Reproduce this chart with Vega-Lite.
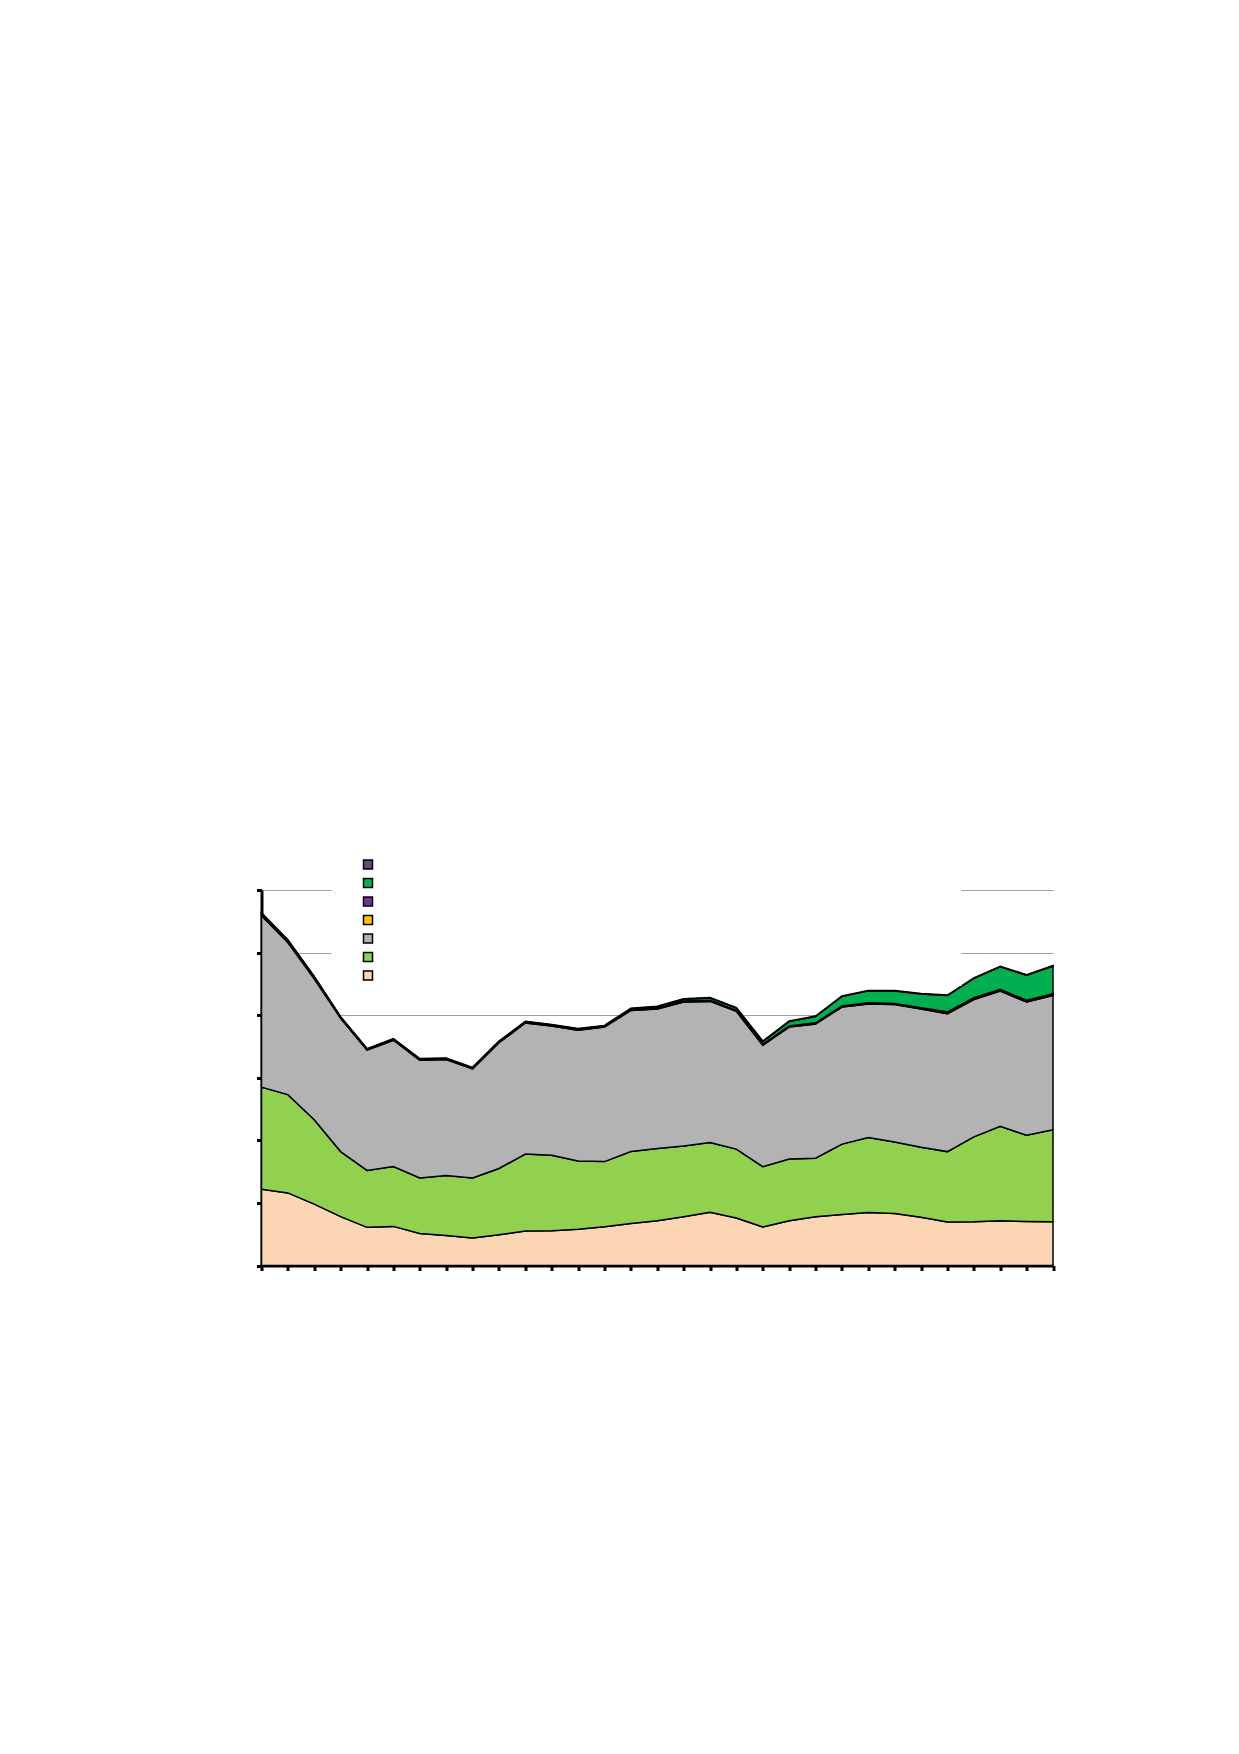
{
  "$schema": "https://vega.github.io/schema/vega-lite/v6.json",
  "autosize": {"type": "none"},
  "padding": {"left": 261.5, "top": 890, "right": 186, "bottom": 488.5},
  "width": 791.5,
  "height": 375.5,
  "background": "white",
  "data": {
    "values": [
      {"t": 0, "Series 1": 12.2, "Series 2": 16.3, "Series 3": 27.4, "Series 4": 0.3, "Series 5": 0.08, "Series 6": 0, "Series 7": 0.08},
      {"t": 1, "Series 1": 11.6, "Series 2": 15.7, "Series 3": 24.3, "Series 4": 0.3, "Series 5": 0.08, "Series 6": 0, "Series 7": 0.08},
      {"t": 2, "Series 1": 9.8, "Series 2": 13.5, "Series 3": 22.5, "Series 4": 0.25, "Series 5": 0.08, "Series 6": 0, "Series 7": 0.08},
      {"t": 3, "Series 1": 7.8, "Series 2": 10.4, "Series 3": 21.3, "Series 4": 0.1, "Series 5": 0.08, "Series 6": 0, "Series 7": 0.08},
      {"t": 4, "Series 1": 6.1, "Series 2": 9.1, "Series 3": 19.2, "Series 4": 0.1, "Series 5": 0.08, "Series 6": 0, "Series 7": 0.08},
      {"t": 5, "Series 1": 6.25, "Series 2": 9.55, "Series 3": 20.2, "Series 4": 0.1, "Series 5": 0.08, "Series 6": 0, "Series 7": 0.08},
      {"t": 6, "Series 1": 5.1, "Series 2": 8.9, "Series 3": 18.8, "Series 4": 0.1, "Series 5": 0.08, "Series 6": 0, "Series 7": 0.08},
      {"t": 7, "Series 1": 4.8, "Series 2": 9.6, "Series 3": 18.5, "Series 4": 0.1, "Series 5": 0.08, "Series 6": 0, "Series 7": 0.08},
      {"t": 8, "Series 1": 4.4, "Series 2": 9.6, "Series 3": 17.4, "Series 4": 0.1, "Series 5": 0.08, "Series 6": 0, "Series 7": 0.08},
      {"t": 9, "Series 1": 4.9, "Series 2": 10.6, "Series 3": 20.1, "Series 4": 0.1, "Series 5": 0.08, "Series 6": 0, "Series 7": 0.08},
      {"t": 10, "Series 1": 5.5, "Series 2": 12.3, "Series 3": 20.95, "Series 4": 0.1, "Series 5": 0.08, "Series 6": 0, "Series 7": 0.08},
      {"t": 11, "Series 1": 5.55, "Series 2": 12.05, "Series 3": 20.65, "Series 4": 0.1, "Series 5": 0.08, "Series 6": 0, "Series 7": 0.08},
      {"t": 12, "Series 1": 5.8, "Series 2": 10.9, "Series 3": 20.9, "Series 4": 0.1, "Series 5": 0.08, "Series 6": 0, "Series 7": 0.08},
      {"t": 13, "Series 1": 6.2, "Series 2": 10.4, "Series 3": 21.5, "Series 4": 0.1, "Series 5": 0.08, "Series 6": 0, "Series 7": 0.08},
      {"t": 14, "Series 1": 6.7, "Series 2": 11.5, "Series 3": 22.55, "Series 4": 0.1, "Series 5": 0.08, "Series 6": 0.1, "Series 7": 0.08},
      {"t": 15, "Series 1": 7.15, "Series 2": 11.55, "Series 3": 22.3, "Series 4": 0.1, "Series 5": 0.08, "Series 6": 0.15, "Series 7": 0.08},
      {"t": 16, "Series 1": 7.8, "Series 2": 11.3, "Series 3": 23.0, "Series 4": 0.1, "Series 5": 0.08, "Series 6": 0.25, "Series 7": 0.08},
      {"t": 17, "Series 1": 8.5, "Series 2": 11.15, "Series 3": 22.55, "Series 4": 0.1, "Series 5": 0.08, "Series 6": 0.35, "Series 7": 0.08},
      {"t": 18, "Series 1": 7.6, "Series 2": 11.0, "Series 3": 22.0, "Series 4": 0.1, "Series 5": 0.08, "Series 6": 0.35, "Series 7": 0.08},
      {"t": 19, "Series 1": 6.15, "Series 2": 9.65, "Series 3": 19.4, "Series 4": 0.1, "Series 5": 0.08, "Series 6": 0.4, "Series 7": 0.08},
      {"t": 20, "Series 1": 7.15, "Series 2": 9.85, "Series 3": 21.1, "Series 4": 0.1, "Series 5": 0.08, "Series 6": 0.7, "Series 7": 0.08},
      {"t": 21, "Series 1": 7.8, "Series 2": 9.35, "Series 3": 21.45, "Series 4": 0.1, "Series 5": 0.08, "Series 6": 1.0, "Series 7": 0.08},
      {"t": 22, "Series 1": 8.15, "Series 2": 11.25, "Series 3": 21.9, "Series 4": 0.1, "Series 5": 0.08, "Series 6": 1.5, "Series 7": 0.08},
      {"t": 23, "Series 1": 8.45, "Series 2": 12.0, "Series 3": 21.35, "Series 4": 0.1, "Series 5": 0.08, "Series 6": 1.9, "Series 7": 0.08},
      {"t": 24, "Series 1": 8.3, "Series 2": 11.45, "Series 3": 21.95, "Series 4": 0.1, "Series 5": 0.08, "Series 6": 2.0, "Series 7": 0.08},
      {"t": 25, "Series 1": 7.7, "Series 2": 11.2, "Series 3": 22.1, "Series 4": 0.1, "Series 5": 0.08, "Series 6": 2.2, "Series 7": 0.08},
      {"t": 26, "Series 1": 6.95, "Series 2": 11.25, "Series 3": 22.05, "Series 4": 0.2, "Series 5": 0.08, "Series 6": 2.6, "Series 7": 0.08},
      {"t": 27, "Series 1": 7.0, "Series 2": 13.55, "Series 3": 21.95, "Series 4": 0.2, "Series 5": 0.08, "Series 6": 3.1, "Series 7": 0.08},
      {"t": 28, "Series 1": 7.15, "Series 2": 15.1, "Series 3": 21.6, "Series 4": 0.2, "Series 5": 0.08, "Series 6": 3.6, "Series 7": 0.08},
      {"t": 29, "Series 1": 7.05, "Series 2": 13.75, "Series 3": 21.3, "Series 4": 0.2, "Series 5": 0.08, "Series 6": 4.0, "Series 7": 0.08},
      {"t": 30, "Series 1": 7.0, "Series 2": 14.7, "Series 3": 21.45, "Series 4": 0.2, "Series 5": 0.08, "Series 6": 4.4, "Series 7": 0.08}
    ]
  },
  "transform": [
    {"fold": ["Series 1", "Series 2", "Series 3", "Series 4", "Series 5", "Series 6", "Series 7"], "as": ["series", "value"]}
  ],
  "mark": {"type": "area", "stroke": "black", "strokeWidth": 1.5, "strokeJoin": "miter", "opacity": 1},
  "encoding": {
    "x": {
      "field": "t", "type": "quantitative",
      "scale": {"domain": [0, 30], "nice": false, "zero": false},
      "axis": {
        "values": [0,1,2,3,4,5,6,7,8,9,10,11,12,13,14,15,16,17,18,19,20,21,22,23,24,25,26,27,28,29,30],
        "labels": false, "title": null, "grid": false,
        "domainColor": "black", "domainWidth": 3, "tickColor": "black", "tickWidth": 3, "tickSize": 5
      }
    },
    "y": {
      "field": "value", "type": "quantitative", "stack": "zero",
      "scale": {"domain": [0, 60], "nice": false},
      "axis": {
        "values": [0, 10, 20, 30, 40, 50, 60],
        "labels": false, "title": null, "grid": true, "gridColor": "#A0A0A0", "gridWidth": 1.2,
        "domainColor": "black", "domainWidth": 3, "tickColor": "black", "tickWidth": 3, "tickSize": 5
      }
    },
    "color": {
      "field": "series", "type": "nominal",
      "scale": {
        "domain": ["Series 7", "Series 6", "Series 5", "Series 4", "Series 3", "Series 2", "Series 1"],
        "range": ["#604A7B", "#00B050", "#7030A0", "#FFC000", "#B3B3B3", "#92D050", "#FCD5B4"]
      },
      "legend": {
        "orient": "none", "legendX": 70, "legendY": -34, "title": null,
        "fillColor": "white", "padding": 3, "strokeColor": null,
        "symbolType": "square", "symbolSize": 81, "symbolStrokeColor": "black", "symbolStrokeWidth": 1.5, "symbolOpacity": 1, "symbolOffset": 28,
        "labelExpr": "' '", "labelOffset": 585, "labelFontSize": 6, "rowPadding": 3.5
      }
    },
    "order": {"field": "series", "sort": "ascending"}
  },
  "config": {"view": {"stroke": null}}
}
